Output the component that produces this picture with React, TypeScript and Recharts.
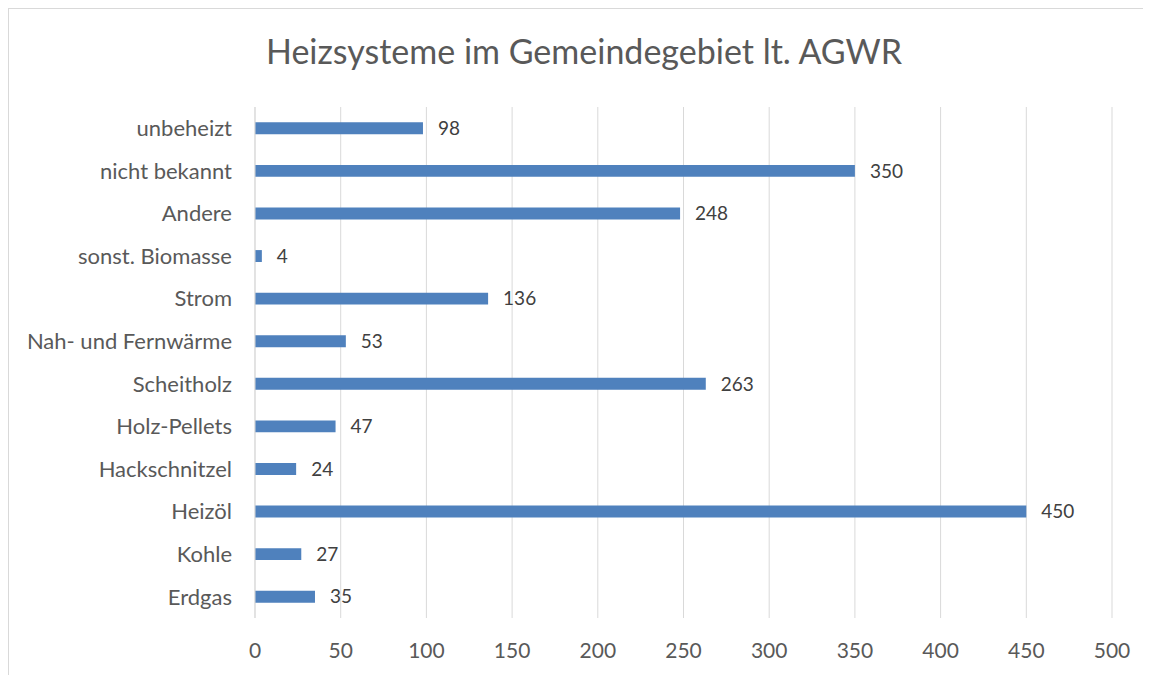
import { BarChart, Bar, XAxis, YAxis, CartesianGrid, LabelList } from 'recharts'

const categories = [
    'unbeheizt',
    'nicht bekannt',
    'Andere',
    'sonst. Biomasse',
    'Strom',
    'Nah- und Fernwärme',
    'Scheitholz',
    'Holz-Pellets',
    'Hackschnitzel',
    'Heizöl',
    'Kohle',
    'Erdgas',
]
const counts = [98, 350, 248, 4, 136, 53, 263, 47, 24, 450, 27, 35]
const xTicks = [0, 50, 100, 150, 200, 250, 300, 350, 400, 450, 500]

const data = categories.map((name, i) => ({ name, value: counts[i] }))

const FONT = 'Lato, "Open Sans", sans-serif'

export default function App() {
    return (
        <div
            style={{
                position: 'relative',
                width: 1143,
                height: 667,
                borderTop: '1px solid #d9d9d9',
                borderLeft: '1px solid #d9d9d9',
                boxSizing: 'border-box',
                background: '#fff',
                fontFamily: FONT,
            }}
        >
            {/* chart title */}
            <svg width={1142} height={90} style={{ position: 'absolute', left: 0, top: 0 }}>
                <text x={575} y={55} textAnchor="middle" fontSize={34} fill="#595959" fontFamily={FONT}>
                    Heizsysteme im Gemeindegebiet lt. AGWR
                </text>
            </svg>
            <BarChart
                width={1142}
                height={666}
                data={data}
                layout="vertical"
                margin={{ top: 98, right: 39, bottom: 0, left: 0 }}
                barCategoryGap="64%"
            >
                <CartesianGrid horizontal={false} stroke="#d9d9d9" strokeWidth={1} />
                <XAxis
                    type="number"
                    domain={[0, 500]}
                    ticks={xTicks}
                    axisLine={false}
                    tickLine={false}
                    tickSize={0}
                    tickMargin={25}
                    height={57}
                    tick={{ fill: '#595959', fontSize: 21, fontFamily: FONT }}
                />
                <YAxis
                    type="category"
                    dataKey="name"
                    width={246}
                    axisLine={{ stroke: '#d9d9d9' }}
                    tickLine={false}
                    tickSize={0}
                    tickMargin={23}
                    interval={0}
                    tick={{ fill: '#595959', fontSize: 22, fontFamily: FONT }}
                />
                <Bar dataKey="value" fill="#4f81bd" isAnimationActive={false}>
                    <LabelList dataKey="value" position="right" offset={15} fill="#404040" fontSize={19} fontFamily={FONT} />
                </Bar>
            </BarChart>
        </div>
    )
}
